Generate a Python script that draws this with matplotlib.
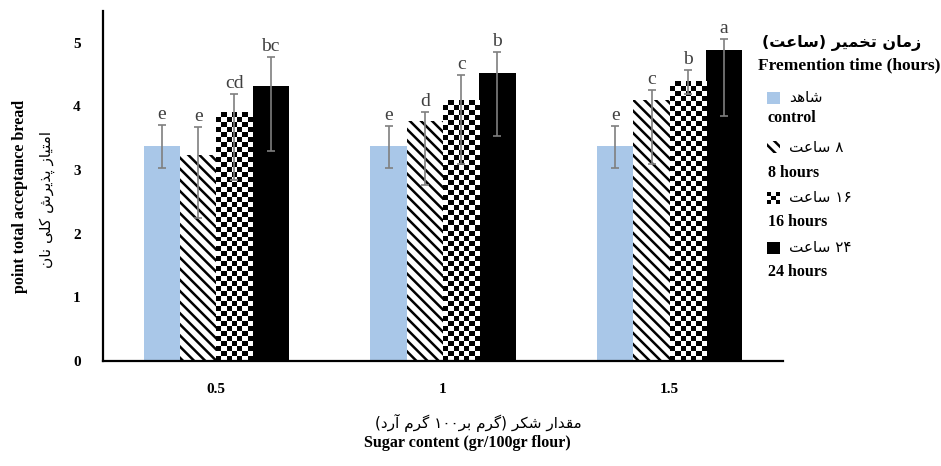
import matplotlib
matplotlib.use('Agg')
import matplotlib.pyplot as plt
from matplotlib.patches import Rectangle
import numpy as np

# ---- data ----
sugar = ['0.5', '1', '1.5']
series_en = ['control', '8 hours', '16 hours', '24 hours']
series_fa = ['شاهد', '۸ ساعت', '۱۶ ساعت', '۲۴ ساعت']

control = [3.38, 3.38, 3.38]
h8 = [3.23, 3.77, 4.10]
h16 = [3.90, 4.10, 4.39]
h24 = [4.32, 4.52, 4.88]

err_lo_control = [0.35, 0.35, 0.35]
err_hi_control = [0.33, 0.32, 0.32]
err_lo_h8 = [0.99, 1.00, 1.00]
err_hi_h8 = [0.45, 0.15, 0.16]
err_lo_h16 = [1.06, 1.01, 0.19]
err_hi_h16 = [0.30, 0.40, 0.19]
err_lo_h24 = [1.02, 0.99, 1.03]
err_hi_h24 = [0.46, 0.33, 0.18]

letters_control = ['e', 'e', 'e']
letters_h8 = ['e', 'd', 'c']
letters_h16 = ['cd', 'c', 'b']
letters_h24 = ['bc', 'b', 'a']

ylabel_en = 'point total acceptance bread'
ylabel_fa = 'امتیاز پذیرش کلی نان'
xlabel_en = 'Sugar content (gr/100gr flour)'
xlabel_fa = 'مقدار شکر (گرم بر۱۰۰ گرم آرد)'
legend_title_fa = 'زمان تخمیر (ساعت)'
legend_title_en = 'Fremention time (hours)'

# ---- simple Persian shaping (no arabic_reshaper available) ----
FORMS = {
    'ا': ('\uFE8D', '\uFE8E', None, None),
    'آ': ('\uFE81', '\uFE82', None, None),
    'ب': ('\uFE8F', '\uFE90', '\uFE91', '\uFE92'),
    'پ': ('\uFB56', '\uFB57', '\uFB58', '\uFB59'),
    'ت': ('\uFE95', '\uFE96', '\uFE97', '\uFE98'),
    'خ': ('\uFEA5', '\uFEA6', '\uFEA7', '\uFEA8'),
    'د': ('\uFEA9', '\uFEAA', None, None),
    'ذ': ('\uFEAB', '\uFEAC', None, None),
    'ر': ('\uFEAD', '\uFEAE', None, None),
    'ز': ('\uFEAF', '\uFEB0', None, None),
    'س': ('\uFEB1', '\uFEB2', '\uFEB3', '\uFEB4'),
    'ش': ('\uFEB5', '\uFEB6', '\uFEB7', '\uFEB8'),
    'ع': ('\uFEC9', '\uFECA', '\uFECB', '\uFECC'),
    'ق': ('\uFED5', '\uFED6', '\uFED7', '\uFED8'),
    '\u06A9': ('\uFB8E', '\uFB8F', '\uFB90', '\uFB91'),
    'گ': ('\uFB92', '\uFB93', '\uFB94', '\uFB95'),
    'ل': ('\uFEDD', '\uFEDE', '\uFEDF', '\uFEE0'),
    'م': ('\uFEE1', '\uFEE2', '\uFEE3', '\uFEE4'),
    'ن': ('\uFEE5', '\uFEE6', '\uFEE7', '\uFEE8'),
    'ه': ('\uFEE9', '\uFEEA', '\uFEEB', '\uFEEC'),
    '\u06CC': ('\uFBFC', '\uFBFD', '\uFBFE', '\uFBFF'),
}
DIGITS = '0123456789۰۱۲۳۴۵۶۷۸۹'


def fa(s):
    s = s.replace('\u064A', '\u06CC').replace('\u0649', '\u06CC').replace('\u0643', '\u06A9')
    out = []
    for i, ch in enumerate(s):
        if ch not in FORMS:
            out.append(ch)
            continue
        prev = s[i-1] if i > 0 else ''
        nxt = s[i+1] if i+1 < len(s) else ''
        jp = prev in FORMS and FORMS[prev][2] is not None
        jn = nxt in FORMS and FORMS[ch][2] is not None
        iso, fin, ini, med = FORMS[ch]
        if jp and jn:
            out.append(med)
        elif jp:
            out.append(fin)
        elif jn:
            out.append(ini)
        else:
            out.append(iso)
    out = out[::-1]
    # digits stay left to right, brackets are mirrored
    res = []
    i = 0
    while i < len(out):
        if out[i] in DIGITS:
            j = i
            while j < len(out) and out[j] in DIGITS:
                j += 1
            res.extend(out[i:j][::-1])
            i = j
        else:
            res.append({'(': ')', ')': '('}.get(out[i], out[i]))
            i += 1
    return ''.join(res)


W, H = 941, 466


def px(x, y):
    return x / W, 1 - y / H


plt.rcParams['hatch.linewidth'] = 1.8
serif = ['Liberation Serif', 'DejaVu Sans']
farsi = ['DejaVu Sans']
stripes = '\\\\\\'

fig = plt.figure(figsize=(W/100, H/100), dpi=100, facecolor='white')
ax = fig.add_axes([103/W, 105/H, 680/W, 350/H])

x = np.arange(len(sugar))
bw = 0.16
values = [control, h8, h16, h24]
lows = [err_lo_control, err_lo_h8, err_lo_h16, err_lo_h24]
highs = [err_hi_control, err_hi_h8, err_hi_h16, err_hi_h24]
letters = [letters_control, letters_h8, letters_h16, letters_h24]

bars = []
b = ax.bar(x - 1.5*bw, control, bw, color='#a9c7e8', lw=0, zorder=2)
bars.append(b)
b = ax.bar(x - 0.5*bw, h8, bw, facecolor='white', edgecolor='black', lw=0,
           hatch=stripes, zorder=2)
bars.append(b)
b = ax.bar(x + 0.5*bw, h16, bw, facecolor='white', lw=0, zorder=2)
bars.append(b)
b = ax.bar(x + 1.5*bw, h24, bw, color='black', lw=0, zorder=2)
bars.append(b)

ax.set_xlim(-0.5, 2.5)
ax.set_ylim(0, 5.5)

# checkerboard fill for the 16 hour bars
sx = ax.bbox.width / 3.0
sy = ax.bbox.height / 5.5
dx, dy = 5.0 / sx, 5.0 / sy
for r in bars[2]:
    x0, w, h = r.get_x(), r.get_width(), r.get_height()
    nx = max(1, int(round(w / dx)))
    ny = max(1, int(round(h / dy)))
    chk = np.add.outer(np.arange(ny), np.arange(nx)) % 2
    ax.imshow(chk, cmap='gray', vmin=0, vmax=1, interpolation='nearest',
              extent=[x0, x0 + w, 0, h], origin='lower', aspect='auto', zorder=2)
ax.set_xlim(-0.5, 2.5)
ax.set_ylim(0, 5.5)
ax.set_aspect('auto')

for k in range(4):
    xs = x + (k - 1.5) * bw
    ax.errorbar(xs, values[k], yerr=[lows[k], highs[k]], fmt='none',
                ecolor='#7f7f7f', elinewidth=1.2, capsize=3, capthick=1.2, zorder=3)
    for i in range(len(sugar)):
        ax.text(xs[i], values[k][i] + highs[k][i] + 0.03, letters[k][i],
                ha='center', va='bottom', fontsize=14, color='#404040',
                family=serif, zorder=4)

for s in ['top', 'right']:
    ax.spines[s].set_visible(False)
for s in ['left', 'bottom']:
    ax.spines[s].set_linewidth(1.6)
ax.tick_params(length=0)
ax.tick_params(axis='y', pad=16)
ax.tick_params(axis='x', pad=16)
ax.set_yticks(range(6))
ax.set_xticks(x)
ax.set_xticklabels(sugar)
for t in ax.get_xticklabels() + ax.get_yticklabels():
    t.set_family(serif)
    t.set_fontweight('bold')
    t.set_fontsize(11)

# axis titles
fig.text(*px(20, 196), ylabel_en, rotation=90, ha='center', va='center',
         family=serif, fontweight='bold', fontsize=11.5)
fig.text(*px(47, 200), fa(ylabel_fa), rotation=90, ha='center', va='center',
         family=farsi, fontsize=11)
fig.text(*px(478, 423), fa(xlabel_fa), ha='center', va='center',
         family=farsi, fontsize=11)
fig.text(*px(467, 443), xlabel_en, ha='center', va='center',
         family=serif, fontweight='bold', fontsize=11.5)

# legend
fig.text(*px(842, 43), fa(legend_title_fa), ha='center', va='center',
         family=farsi, fontweight='bold', fontsize=11.5)
fig.text(*px(940, 65), legend_title_en, ha='right', va='center',
         family=serif, fontweight='bold', fontsize=12.5)

rows_fa = [98, 147, 198, 248]
rows_en = [118, 173, 222, 272]
for i in range(4):
    yc = rows_fa[i]
    x0, y0 = px(767, yc + 6)
    ww, hh = 13 / W, 12 / H
    if i == 0:
        fig.add_artist(Rectangle((x0, y0), ww, hh, transform=fig.transFigure,
                                 facecolor='#a9c7e8', lw=0))
    elif i == 1:
        fig.add_artist(Rectangle((x0, y0), ww, hh, transform=fig.transFigure,
                                 facecolor='white', edgecolor='black', lw=0,
                                 hatch=stripes))
    elif i == 2:
        iax = fig.add_axes([x0, y0, ww, hh])
        iax.imshow(np.add.outer(np.arange(3), np.arange(3)) % 2, cmap='gray',
                   interpolation='nearest', aspect='auto')
        iax.axis('off')
    else:
        fig.add_artist(Rectangle((x0, y0), ww, hh, transform=fig.transFigure,
                                 facecolor='black', lw=0))
    fig.text(*px(789, yc), fa(series_fa[i]), ha='left', va='center',
             family=farsi, fontsize=11)
    fig.text(*px(768, rows_en[i]), series_en[i], ha='left', va='center',
             family=serif, fontweight='bold', fontsize=11.5)

fig.savefig('out.png', dpi=100)
